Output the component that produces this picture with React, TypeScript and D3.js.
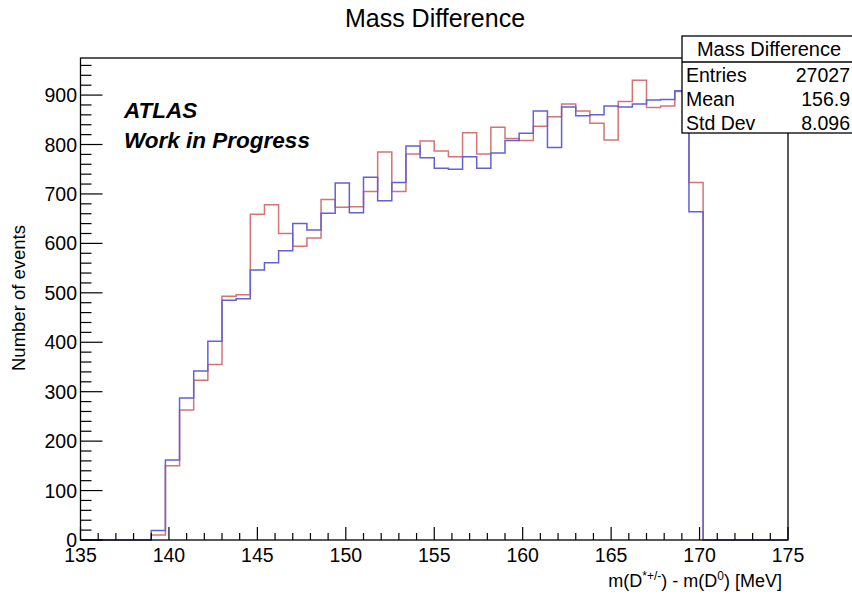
import React from "react";
import * as d3 from "d3";

const X_MIN = 135;
const X_MAX = 175;
const Y_MAX = 975;
const BIN_START = 139.0;
const BIN_WIDTH = 0.8;

const blueCounts = [
  19, 162, 287, 342, 402, 485, 488, 546, 561, 585, 640, 627, 661, 722, 662, 734, 686, 723, 797, 773,
  752, 750, 775, 752, 783, 808, 823, 868, 794, 876, 858, 860, 878, 876, 882, 890, 891, 909, 664,
];
const redCounts = [
  10, 150, 263, 323, 355, 493, 496, 659, 678, 620, 594, 611, 689, 673, 674, 705, 785, 705, 781, 807,
  787, 775, 824, 781, 835, 812, 808, 837, 856, 882, 868, 843, 809, 887, 930, 875, 878, 907, 723,
];

const xMajorTicks = [135, 140, 145, 150, 155, 160, 165, 170, 175];
const yMajorTicks = [0, 100, 200, 300, 400, 500, 600, 700, 800, 900];

const statsRows = [
  ["Entries", "27027"],
  ["Mean", "156.9"],
  ["Std Dev", "8.096"],
];

const FONT = "'Liberation Sans', Arial, Helvetica, sans-serif";

export default function App() {
  const W = 852;
  const H = 596;
  const left = 80.5;
  const right = 788;
  const top = 58;
  const bottom = 540;
  const x = d3.scaleLinear().domain([X_MIN, X_MAX]).range([left, right]);
  const y = d3.scaleLinear().domain([0, Y_MAX]).range([bottom, top]);

  const stepPoints = (counts: number[]): [number, number][] => {
    const pts: [number, number][] = [[X_MIN, 0], [BIN_START, 0]];
    counts.forEach((c, i) => {
      const x0 = BIN_START + i * BIN_WIDTH;
      const x1 = x0 + BIN_WIDTH;
      pts.push([x0, c], [x1, c]);
    });
    const end = BIN_START + counts.length * BIN_WIDTH;
    pts.push([end, 0], [X_MAX, 0]);
    return pts;
  };
  const line = d3
    .line<[number, number]>()
    .x((d) => x(d[0]))
    .y((d) => y(d[1]));

  const xMinor = d3.range(X_MIN, X_MAX + 0.001, 1).filter((v) => v % 5 !== 0);
  const yMinor = d3.range(0, Y_MAX, 20).filter((v) => v % 100 !== 0);

  const boxL = 682;
  const boxR = 860;
  const boxT = 36;
  const boxB = 133;
  const titleSep = 62;

  return (
    <svg
      width={W}
      height={H}
      style={{ position: "fixed", left: 0, top: 0, background: "#fff" }}
      fontFamily={FONT}
    >
      <rect x={0} y={0} width={W} height={H} fill="#fff" />
      <text x={435} y={27} textAnchor="middle" fontSize={25} fill="#000">
        Mass Difference
      </text>

      {/* histograms */}
      <path d={line(stepPoints(redCounts)) || ""} fill="none" stroke="#d47474" strokeWidth={1.5} />
      <path d={line(stepPoints(blueCounts)) || ""} fill="none" stroke="#6262d2" strokeWidth={1.5} />

      {/* frame */}
      <rect x={left} y={top} width={right - left} height={bottom - top} fill="none" stroke="#000" strokeWidth={1.3} />

      {/* x ticks */}
      {xMajorTicks.map((t) => (
        <g key={"xm" + t}>
          <line x1={x(t)} x2={x(t)} y1={bottom} y2={bottom - 13} stroke="#000" strokeWidth={1.2} />
          <text x={x(t)} y={562} textAnchor="middle" fontSize={19.5} fill="#000">
            {t}
          </text>
        </g>
      ))}
      {xMinor.map((t) => (
        <line key={"xn" + t} x1={x(t)} x2={x(t)} y1={bottom} y2={bottom - 7} stroke="#000" strokeWidth={1.2} />
      ))}

      {/* y ticks */}
      {yMajorTicks.map((t) => (
        <g key={"ym" + t}>
          <line x1={left} x2={left + 22} y1={y(t)} y2={y(t)} stroke="#000" strokeWidth={1.2} />
          <text x={77} y={y(t) + 7} textAnchor="end" fontSize={19.5} fill="#000">
            {t}
          </text>
        </g>
      ))}
      {yMinor.map((t) => (
        <line key={"yn" + t} x1={left} x2={left + 11} y1={y(t)} y2={y(t)} stroke="#000" strokeWidth={1.2} />
      ))}

      {/* axis titles */}
      <text
        transform={`translate(25, ${298}) rotate(-90)`}
        textAnchor="middle"
        fontSize={18.5}
        fill="#000"
      >
        Number of events
      </text>
      <text x={782} y={587} textAnchor="end" fontSize={18} fill="#000">
        m(D
        <tspan dy={-7} fontSize={12}>*+/-</tspan>
        <tspan dy={7}>) - m(D</tspan>
        <tspan dy={-7} fontSize={12}>0</tspan>
        <tspan dy={7}>) [MeV]</tspan>
      </text>

      {/* ATLAS label */}
      <text x={124} y={118} fontSize={22.5} fontWeight="bold" fontStyle="italic" fill="#000">
        ATLAS
      </text>
      <text x={124} y={148} fontSize={22.5} fontWeight="bold" fontStyle="italic" fill="#000">
        Work in Progress
      </text>

      {/* stats box */}
      <rect x={boxL} y={boxT} width={boxR - boxL} height={boxB - boxT} fill="#fff" stroke="#000" strokeWidth={1.3} />
      <line x1={boxL} x2={boxR} y1={titleSep} y2={titleSep} stroke="#000" strokeWidth={1.3} />
      <text x={769} y={56} textAnchor="middle" fontSize={20} fill="#000">
        Mass Difference
      </text>
      {statsRows.map((r, i) => (
        <g key={r[0]}>
          <text x={686} y={82 + i * 24} fontSize={19.5} fill="#000">
            {r[0]}
          </text>
          <text x={850} y={82 + i * 24} textAnchor="end" fontSize={19.5} fill="#000">
            {r[1]}
          </text>
        </g>
      ))}
    </svg>
  );
}
